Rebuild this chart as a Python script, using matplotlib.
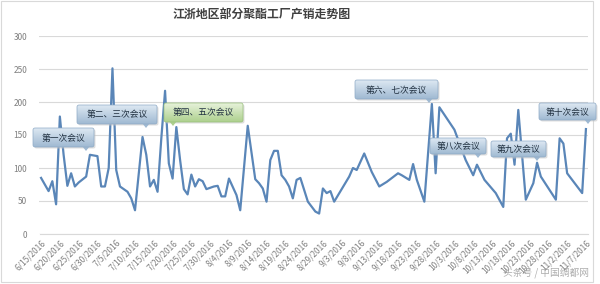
import matplotlib
matplotlib.use("Agg")
import matplotlib.pyplot as plt
import matplotlib.dates as mdates
from matplotlib.patches import FancyBboxPatch, Polygon, Rectangle
import numpy as np
import pandas as pd

plt.rcParams['font.family'] = ['Noto Sans CJK SC', 'DejaVu Sans']

title = "江浙地区部分聚酯工厂产销走势图"

dates = ["2016-06-15", "2016-06-17", "2016-06-18", "2016-06-19", "2016-06-20", "2016-06-21",
         "2016-06-22", "2016-06-23", "2016-06-24", "2016-06-25", "2016-06-27", "2016-06-28",
         "2016-06-30", "2016-07-01", "2016-07-02", "2016-07-03", "2016-07-04", "2016-07-05",
         "2016-07-06", "2016-07-08", "2016-07-09", "2016-07-10", "2016-07-12", "2016-07-13",
         "2016-07-14", "2016-07-15", "2016-07-16", "2016-07-17", "2016-07-18", "2016-07-19",
         "2016-07-20", "2016-07-21", "2016-07-22", "2016-07-23", "2016-07-24", "2016-07-25",
         "2016-07-26", "2016-07-27", "2016-07-28", "2016-07-29", "2016-07-31", "2016-08-01",
         "2016-08-02", "2016-08-03", "2016-08-04", "2016-08-06", "2016-08-07", "2016-08-09",
         "2016-08-11", "2016-08-12", "2016-08-13", "2016-08-14", "2016-08-15", "2016-08-16",
         "2016-08-17", "2016-08-18", "2016-08-19", "2016-08-20", "2016-08-21", "2016-08-22",
         "2016-08-23", "2016-08-24", "2016-08-25", "2016-08-27", "2016-08-28", "2016-08-29",
         "2016-08-30", "2016-08-31", "2016-09-01", "2016-09-05", "2016-09-06", "2016-09-07",
         "2016-09-09", "2016-09-11", "2016-09-13", "2016-09-15", "2016-09-18", "2016-09-19",
         "2016-09-21", "2016-09-22", "2016-09-23", "2016-09-25", "2016-09-27", "2016-09-28",
         "2016-09-29", "2016-10-03", "2016-10-06", "2016-10-08", "2016-10-09", "2016-10-11",
         "2016-10-14", "2016-10-16", "2016-10-17", "2016-10-18", "2016-10-19", "2016-10-20",
         "2016-10-22", "2016-10-24", "2016-10-25", "2016-10-26", "2016-10-30", "2016-10-31",
         "2016-11-01", "2016-11-02", "2016-11-06", "2016-11-07"]

values = [85, 65, 80, 45, 178, 120,
          73, 92, 72, 78, 87, 120,
          118, 72, 72, 100, 251, 97,
          72, 64, 54, 36, 147, 120,
          72, 82, 64, 145, 217, 107,
          84, 162, 112, 68, 60, 90,
          72, 83, 80, 68, 72, 73,
          57, 57, 84, 59, 36, 164,
          83, 77, 69, 49, 112, 126,
          126, 89, 82, 72, 54, 82,
          85, 67, 49, 34, 31, 69,
          62, 65, 49, 87, 100, 97,
          122, 94, 72, 79, 92, 89,
          82, 106, 82, 49, 197, 92,
          192, 158, 112, 89, 105, 82,
          62, 41, 145, 152, 105, 188,
          52, 77, 108, 87, 52, 145,
          137, 92, 62, 159]

tick_dates = pd.date_range("2016-06-15", "2016-11-07", freq="5D")
tick_labels = [f"{d.month}/{d.day}/{d.year}" for d in tick_dates]
y_ticks = [0, 50, 100, 150, 200, 250, 300]

callouts = ["第一次会议", "第二、三次会议", "第四、五次会议", "第六、七次会议",
            "第八次会议", "第九次会议", "第十次会议"]

W, H = 600, 284
fig = plt.figure(figsize=(6, 2.84), dpi=100)
fig.patch.set_facecolor("white")

x0p, x1p, y0p, y1p = 39.5, 587.5, 36, 234
ax = fig.add_axes([x0p / W, 1 - y1p / H, (x1p - x0p) / W, (y1p - y0p) / H])
d = pd.to_datetime(dates)
ax.plot(d, values, color="#5a86b8", lw=1.6, solid_joinstyle="round", zorder=3)
ax.set_ylim(0, 300)
ax.set_xlim(pd.Timestamp("2016-06-15") - pd.Timedelta(hours=10),
            pd.Timestamp("2016-11-07") + pd.Timedelta(hours=10))
ax.set_yticks(y_ticks)
ax.set_yticklabels([str(v) for v in y_ticks])
ax.set_xticks(tick_dates)
ax.set_xticklabels(tick_labels, rotation=45, ha="right", rotation_mode="anchor")
ax.grid(axis="y", color="#d9d9d9", lw=0.8)
ax.set_axisbelow(True)
for s in ["top", "right", "left"]:
    ax.spines[s].set_visible(False)
ax.spines["bottom"].set_color("#d9d9d9")
ax.tick_params(axis="both", length=0, labelsize=6, colors="#7f7f7f")
ax.tick_params(axis="y", pad=9)
ax.tick_params(axis="x", pad=3)

# overlay in pixel coords
ov = fig.add_axes([0, 0, 1, 1], zorder=10)
ov.set_xlim(0, W)
ov.set_ylim(H, 0)
ov.axis("off")
ov.patch.set_alpha(0)

ov.text(262, 15, title, ha="center", va="center", fontsize=8.6, fontweight="bold",
        color="#404040")

boxes = [
    (33, 128, 94, 147, 86, "blue"),
    (77, 105, 157, 124, 146, "blue"),
    (164, 103, 243, 122, 173, "green"),
    (355, 80, 438, 99, 429, "blue"),
    (430, 138, 486, 154, 478, "blue"),
    (491, 141, 546, 157, 537, "blue"),
    (539, 103, 596, 120, 588, "blue"),
]
cols = {"blue": ("#dde8f2", "#9fb9d2", "#8eaac6"),
        "green": ("#e6f2da", "#aed08e", "#98c07a")}
for (bx0, by0, bx1, by1, px, c), txt in zip(boxes, callouts):
    top, bot, edge = cols[c]
    # shadow
    sh = FancyBboxPatch((bx0 + 1.5, by0 + 1.5), bx1 - bx0, by1 - by0,
                        boxstyle="round,pad=0,rounding_size=2", fc="#c8c8c8",
                        ec="none", alpha=0.6, zorder=1)
    ov.add_patch(sh)
    patch = FancyBboxPatch((bx0, by0), bx1 - bx0, by1 - by0,
                           boxstyle="round,pad=0,rounding_size=2", fc="none",
                           ec=edge, lw=0.5, zorder=3)
    ov.add_patch(patch)
    grad = np.linspace(0, 1, 50).reshape(-1, 1)
    ct = np.array(matplotlib.colors.to_rgb(top))
    cb = np.array(matplotlib.colors.to_rgb(bot))
    img = ct[None, None, :] * (1 - grad[:, :, None]) + cb[None, None, :] * grad[:, :, None]
    im = ov.imshow(img, extent=(bx0, bx1, by1, by0), aspect="auto", zorder=2,
                   interpolation="bilinear")
    im.set_clip_path(patch)
    tri = Polygon([(px - 3.5, by1 - 0.5), (px + 3.5, by1 - 0.5), (px, by1 + 4)],
                  closed=True, fc=bot, ec="none", zorder=2)
    ov.add_patch(tri)
    ov.text((bx0 + bx1) / 2, (by0 + by1) / 2 + 0.5, txt, ha="center", va="center",
            fontsize=6.3, color="#1f2f3f", zorder=4)

ov.set_xlim(0, W)
ov.set_ylim(H, 0)

# chart border
ov.add_patch(Rectangle((1, 1), 592, 281, fill=False, ec="#d9d9d9", lw=0.8, zorder=0))

# watermark
ov.text(546, 273, "头条号 / 中国绸都网", ha="center", va="center", fontsize=7,
        color="#a0a0a0", alpha=0.85, zorder=5)

fig.savefig("out.png", dpi=100)
